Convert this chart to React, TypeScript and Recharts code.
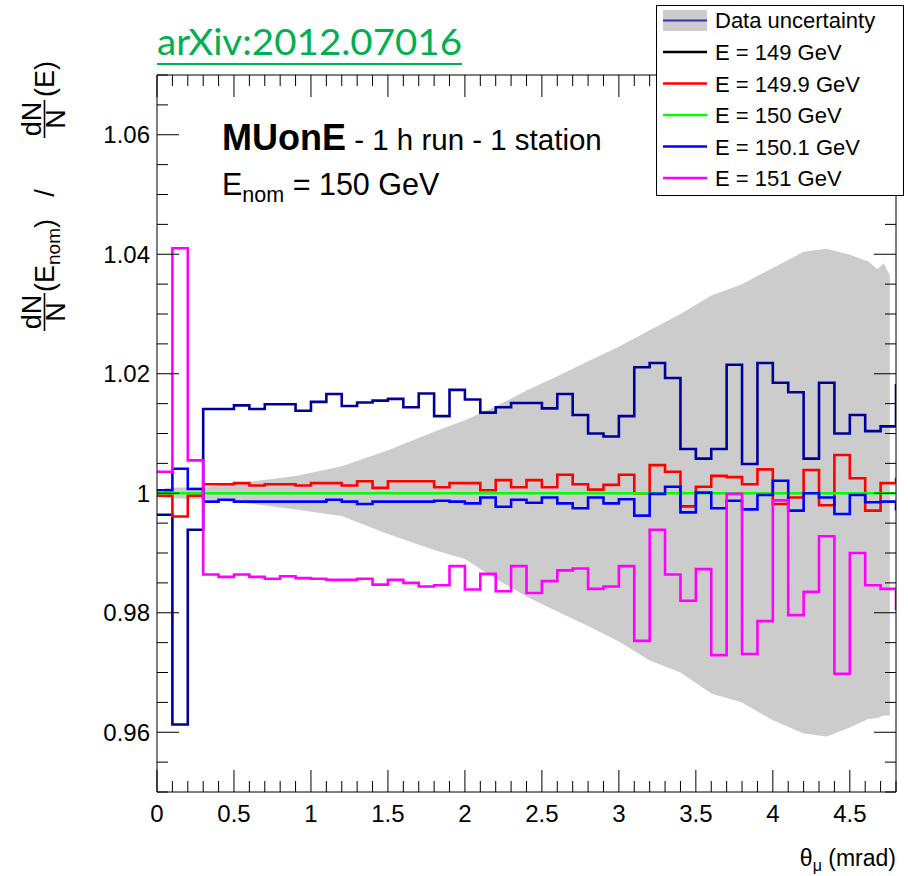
import { ComposedChart, Line, Area, XAxis, YAxis } from "recharts";

const FONT = "'Liberation Sans', Arial, Helvetica, sans-serif";
const X_MAX = 4.8;
const Y_MIN = 0.95;
const Y_MAX = 1.07;

const xMajorTicks = [0, 0.5, 1, 1.5, 2, 2.5, 3, 3.5, 4, 4.5];
const xTickLabels = ["0", "0.5", "1", "1.5", "2", "2.5", "3", "3.5", "4", "4.5"];
const yMajorTicks = [0.96, 0.98, 1, 1.02, 1.04, 1.06];
const yTickLabels = ["0.96", "0.98", "1", "1.02", "1.04", "1.06"];

// ratio per 0.1 mrad bin; the 49th value is the bin just past 4.8 (only its edge shows)
const e149 = [
  0.9964, 0.9613, 0.9939, 1.0141, 1.0141, 1.0147, 1.0141, 1.0149, 1.0149, 1.0138,
  1.0153, 1.0166, 1.0146, 1.0152, 1.0155, 1.0158, 1.0144, 1.0167, 1.0129, 1.0173,
  1.0157, 1.0135, 1.0144, 1.0151, 1.0151, 1.0142, 1.0166, 1.0131, 1.0100, 1.0095,
  1.0129, 1.0211, 1.0218, 1.0193, 1.0074, 1.0058, 1.0074, 1.0215, 1.0049, 1.0218,
  1.0185, 1.0169, 1.0058, 1.0185, 1.0100, 1.0131, 1.0104, 1.0112, 1.0183,
];
const e1499 = [
  0.9996, 0.9961, 0.9996, 1.0015, 1.0015, 1.0017, 1.0013, 1.0015, 1.0015, 1.0013,
  1.0017, 1.0017, 1.0013, 1.0020, 1.0009, 1.0020, 1.0020, 1.0020, 1.0010, 1.0017,
  1.0017, 1.0005, 1.0022, 1.0010, 1.0022, 1.0010, 1.0031, 1.0015, 1.0006, 1.0014,
  1.0031, 1.0000, 1.0047, 1.0036, 0.9978, 1.0011, 1.0029, 1.0027, 1.0015, 1.0040,
  0.9982, 0.9993, 1.0039, 0.9980, 1.0064, 1.0025, 0.9971, 1.0017, 1.0026,
];
const e150 = [
  1, 1, 1, 1, 1, 1, 1, 1, 1, 1, 1, 1, 1, 1, 1, 1, 1, 1, 1, 1, 1, 1, 1, 1, 1,
  1, 1, 1, 1, 1, 1, 1, 1, 1, 1, 1, 1, 1, 1, 1, 1, 1, 1, 1, 1, 1, 1, 1, 1,
];
const e1501 = [
  1.0005, 1.0041, 1.0007, 0.9986, 0.9989, 0.9986, 0.9986, 0.9986, 0.9986, 0.9986,
  0.9986, 0.9989, 0.9986, 0.9982, 0.9986, 0.9986, 0.9986, 0.9986, 0.99875, 0.9986,
  0.9983, 0.9993, 0.99775, 0.9989, 0.9984, 0.9993, 0.9983, 0.9975, 0.9993, 0.9983,
  0.9990, 0.99625, 0.9999, 1.0011, 0.9968, 1.0001, 0.9975, 0.99875, 0.9973, 0.9997,
  1.0021, 0.9971, 1.0000, 0.9993, 0.99653, 0.9997, 0.9985, 0.9986, 0.9971,
];
const e151 = [
  1.0036, 1.0410, 1.0055, 0.9864, 0.9860, 0.9864, 0.9860, 0.9857, 0.9861, 0.9858,
  0.9857, 0.9855, 0.9855, 0.9857, 0.9847, 0.9855, 0.9850, 0.9844, 0.9846, 0.9878,
  0.9839, 0.9865, 0.9836, 0.9878, 0.9833, 0.9853, 0.9871, 0.9874, 0.9840, 0.9844,
  0.9878, 0.9753, 0.9939, 0.9864, 0.9820, 0.9873, 0.9729, 0.9999, 0.9731, 0.9786,
  0.9988, 0.9796, 0.9835, 0.9928, 0.9698, 0.9900, 0.9846, 0.9840, 0.9804,
];

// data uncertainty band (lower / upper edge)
const bandX = [0.05, 0.3, 0.6, 0.9, 1.2, 1.5, 1.8, 2.0, 2.2, 2.4, 2.6, 2.8, 3.0, 3.2, 3.4, 3.6, 3.8, 4.0, 4.2, 4.35, 4.5, 4.62, 4.68, 4.72, 4.76];
const bandHi = [1.0009, 1.001, 1.0019, 1.0029, 1.0045, 1.0072, 1.0103, 1.0122, 1.0145, 1.0172, 1.0196, 1.0221, 1.0245, 1.0273, 1.03, 1.0331, 1.035, 1.0377, 1.0404, 1.0409, 1.0399, 1.0388, 1.0375, 1.0385, 1.0365];
const bandLo = [0.9992, 0.999, 0.9983, 0.9973, 0.9962, 0.9932, 0.9905, 0.989, 0.9857, 0.9827, 0.9802, 0.9778, 0.9752, 0.972, 0.97, 0.9665, 0.965, 0.962, 0.9598, 0.9593, 0.9608, 0.9622, 0.9624, 0.9628, 0.9628];

const seriesNames = ["E = 149 GeV", "E = 149.9 GeV", "E = 150 GeV", "E = 150.1 GeV", "E = 151 GeV"];
const seriesColors = ["#000099", "#ff0000", "#00ff00", "#0000ff", "#ff00ff"];
const legendColors = ["#000000", "#ff0000", "#00ff00", "#0000ff", "#ff00ff"];
const seriesValues = [e149, e1499, e150, e1501, e151];

const xTicks = Array.from({ length: 49 }, (_, i) => i / 10);
const yTicks = Array.from({ length: 25 }, (_, i) => (950 + i * 5) / 1000);

const toHist = (vals: number[]) => vals.map((v, i) => ({ x: i / 10, y: v }));
const bandData = bandX.map((x, i) => ({ x, range: [bandLo[i], bandHi[i]] }));

function XTick(props: any) {
  const { x, y, payload, top } = props;
  const i = xMajorTicks.indexOf(payload.value);
  const len = i >= 0 ? 22 : 11;
  return (
    <g>
      <line x1={x} y1={y} x2={x} y2={top ? y + len : y - len} stroke="#000" />
      {!top && i >= 0 && (
        <text x={x} y={y + 30} textAnchor="middle" fontSize={24} fontFamily={FONT} fill="#000">
          {xTickLabels[i]}
        </text>
      )}
    </g>
  );
}

function YTick(props: any) {
  const { x, y, payload, right } = props;
  const i = yMajorTicks.indexOf(payload.value);
  const len = i >= 0 ? 22 : 11;
  return (
    <g>
      <line x1={x} y1={y} x2={right ? x - len : x + len} y2={y} stroke="#000" />
      {!right && i >= 0 && (
        <text x={x - 7} y={y + 8.5} textAnchor="end" fontSize={24} fontFamily={FONT} fill="#000">
          {yTickLabels[i]}
        </text>
      )}
    </g>
  );
}

function Frac({ cy }: { cy: number }) {
  // rotated frame: x = -screenY, y = screenX
  return (
    <>
      <text x={-cy} y={41} textAnchor="middle">dN</text>
      <line x1={-cy - 19} x2={-cy + 19} y1={44.5} y2={44.5} stroke="#000" strokeWidth={1.6} />
      <text x={-cy} y={65} textAnchor="middle">N</text>
    </>
  );
}

export default function App() {
  return (
    <div style={{ position: "absolute", left: 0, top: 0, width: 908, height: 876, background: "#fff" }}>
      <ComposedChart width={908} height={876} margin={{ top: 74, right: 11, bottom: 0, left: 0 }}>
        <XAxis xAxisId="b" type="number" dataKey="x" domain={[0, X_MAX]} ticks={xTicks} interval={0}
          allowDataOverflow height={84} tickSize={0} tickMargin={0} tickLine={false}
          axisLine={{ stroke: "#000" }} tick={(p: any) => <XTick {...p} />} />
        <XAxis xAxisId="t" orientation="top" type="number" dataKey="x" domain={[0, X_MAX]} ticks={xTicks} interval={0}
          allowDataOverflow height={1} tickSize={0} tickMargin={0} tickLine={false}
          axisLine={{ stroke: "#000" }} tick={(p: any) => <XTick {...p} top />} />
        <YAxis yAxisId="l" type="number" domain={[Y_MIN, Y_MAX]} ticks={yTicks} interval={0}
          allowDataOverflow width={157} tickSize={0} tickMargin={0} tickLine={false}
          axisLine={{ stroke: "#000" }} tick={(p: any) => <YTick {...p} />} />
        <YAxis yAxisId="r" orientation="right" type="number" domain={[Y_MIN, Y_MAX]} ticks={yTicks} interval={0}
          allowDataOverflow width={1} tickSize={0} tickMargin={0} tickLine={false}
          axisLine={{ stroke: "#000" }} tick={(p: any) => <YTick {...p} right />} />
        <Area data={bandData} dataKey="range" xAxisId="b" yAxisId="l" type="linear"
          stroke="none" fill="#cccccc" fillOpacity={1} dot={false} activeDot={false} isAnimationActive={false} />
        {seriesValues.map((vals, k) => (
          <Line key={seriesNames[k]} data={toHist(vals)} dataKey="y" xAxisId="b" yAxisId="l" type="stepAfter"
            stroke={seriesColors[k]} strokeWidth={2.6} dot={false} activeDot={false} isAnimationActive={false} />
        ))}
      </ComposedChart>

      <svg width={908} height={876} style={{ position: "absolute", left: 0, top: 0, pointerEvents: "none" }}
        fontFamily={FONT} fill="#000">
        <text x={157} y={55} fontFamily="Lato, 'Open Sans', sans-serif" fontSize={36} fill="#00b050"
          textLength={305} lengthAdjust="spacingAndGlyphs">arXiv:2012.07016</text>
        <line x1={157} x2={462} y1={64} y2={64} stroke="#00b050" strokeWidth={2} />

        <text x={222} y={150} fontSize={36} fontWeight="bold">
          MUonE<tspan fontWeight="normal" fontSize={29.5}> - 1 h run - 1 station</tspan>
        </text>
        <text x={222} y={195} fontSize={30.5}>
          E<tspan fontSize={21.5} dy={7}>nom</tspan><tspan dy={-7}> = 150 GeV</tspan>
        </text>

        <text x={896} y={866} textAnchor="end" fontSize={23}>
          θ<tspan fontSize={16} dy={5}>μ</tspan><tspan dy={-5}> (mrad)</tspan>
        </text>

        <g transform="rotate(-90)" fontSize={27}>
          <Frac cy={312} />
          <text x={-292} y={54}>
            (E<tspan fontSize={19} dy={6}>nom</tspan><tspan dy={-6}>)</tspan>
          </text>
          <text x={-193} y={54} textAnchor="middle">/</text>
          <Frac cy={119} />
          <text x={-97} y={54}>(E)</text>
        </g>

        <rect x={656.5} y={5.5} width={247} height={190} fill="#fff" stroke="#000" />
        <rect x={663} y={10} width={44} height={21} fill="#cccccc" />
        <line x1={663} x2={707} y1={20.5} y2={20.5} stroke="#3333aa" strokeWidth={2} />
        <text x={715} y={28} fontSize={22}>Data uncertainty</text>
        {seriesNames.map((n, k) => (
          <g key={n}>
            <line x1={663} x2={707} y1={52 + k * 31.5} y2={52 + k * 31.5} stroke={legendColors[k]} strokeWidth={2.6} />
            <text x={715} y={60 + k * 31.5} fontSize={22}>{n}</text>
          </g>
        ))}
      </svg>
    </div>
  );
}
